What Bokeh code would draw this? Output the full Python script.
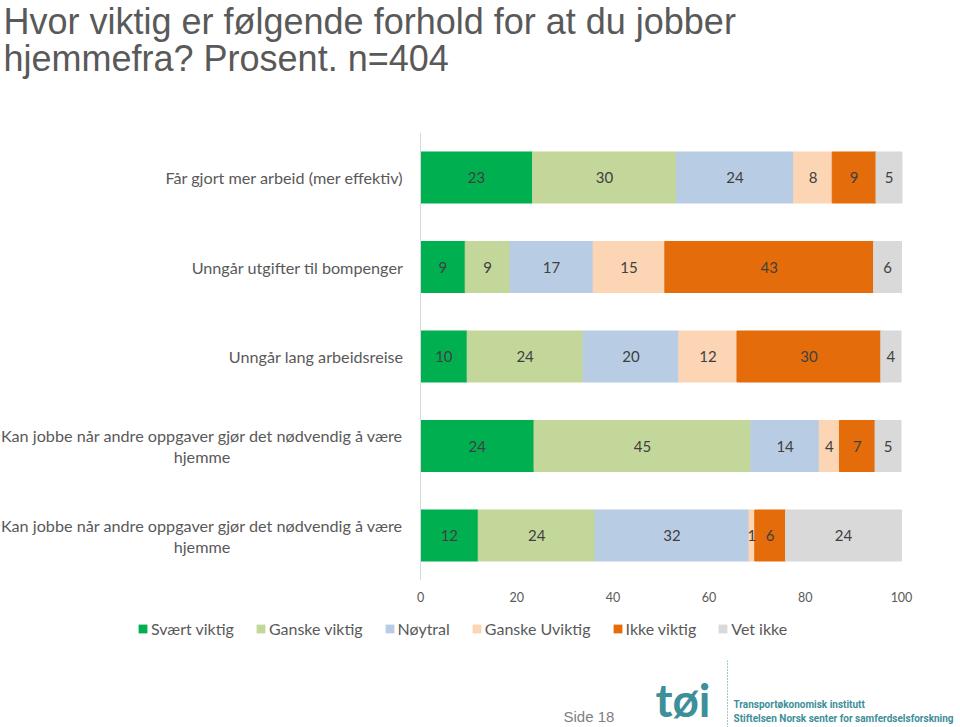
from bokeh.plotting import figure
from bokeh.layouts import column
from bokeh.models import (ColumnDataSource, Range1d, FixedTicker, Label, Span)
from bokeh.core.properties import value
from bokeh.embed import file_html
from bokeh.resources import INLINE

# ---------------- data ----------------
title_lines = ["Hvor viktig er følgende forhold for at du jobber",
               "hjemmefra? Prosent. n=404"]

categories = [
    "Får gjort mer arbeid (mer effektiv)",
    "Unngår utgifter til bompenger",
    "Unngår lang arbeidsreise",
    "Kan jobbe når andre oppgaver gjør det nødvendig å være\nhjemme",
    "Kan jobbe når andre oppgaver gjør det nødvendig å være\nhjemme",
]

series_names = ["Svært viktig", "Ganske viktig", "Nøytral",
                "Ganske Uviktig", "Ikke viktig", "Vet ikke"]

svaert_viktig = [23.3, 9.3, 9.7, 23.6, 12.0]
ganske_viktig = [29.9, 9.3, 24.1, 45.1, 24.3]
noytral = [24.4, 17.3, 19.9, 14.2, 32.0]
ganske_uviktig = [8.0, 14.9, 12.1, 4.2, 1.2]
ikke_viktig = [9.1, 43.4, 29.9, 7.4, 6.4]
vet_ikke = [5.4, 5.8, 4.2, 5.4, 24.1]

x_ticks = [0, 20, 40, 60, 80, 100]

colors = ["#00b050", "#c4d79b", "#b8cce4", "#fcd5b5", "#e46c0a", "#d9d9d9"]

footer_page = "Side 18"
logo_mark = "tøi"
logo_lines = ["Transportøkonomisk institutt",
              "Stiftelsen Norsk senter for samferdselsforskning"]

# ---------------- layout constants (pixels) ----------------
W = 960
H_MAIN = 612
H_LEG = 48
H_FOOT = 67
FRAME_H = 585          # main frame spans the full width and the top 585 px
X0_PX = 420            # where value 0 sits
PX_PER_UNIT = 4.81     # 100 units = 481 px
TOP_ROW_PX = 177       # centre of first bar
ROW_PX = 89.5          # row spacing

TEXT_GREY = "#595959"
FONT = "Lato"

# ---------------- main chart ----------------
series = [svaert_viktig, ganske_viktig, noytral, ganske_uviktig, ikke_viktig, vet_ikke]
keys = [f"s{i}" for i in range(len(series))]
row_pos = list(range(len(categories)))

data = {"pos": row_pos}
for k, s in zip(keys, series):
    data[k] = s
src = ColumnDataSource(data)

x_start = -X0_PX / PX_PER_UNIT
x_end = x_start + W / PX_PER_UNIT
y_top = -TOP_ROW_PX / ROW_PX
y_bottom = y_top + FRAME_H / ROW_PX

p = figure(width=W, height=H_MAIN, output_backend="svg", toolbar_location=None,
           x_range=Range1d(x_start, x_end), y_range=Range1d(y_bottom, y_top),
           x_axis_location="below", y_axis_location=None,
           min_border_left=0, min_border_right=0, min_border_top=0,
           min_border_bottom=H_MAIN - FRAME_H)
p.outline_line_color = None
p.xgrid.visible = False
p.ygrid.visible = False
p.background_fill_color = "white"

p.hbar_stack(keys, y="pos", height=0.57, color=colors, source=src)

# vertical category-axis line
n = len(categories)
p.segment(x0=[0], y0=[-0.5], x1=[0], y1=[n - 0.5], line_color="#d9d9d9", line_width=1)

# value labels in the middle of each segment
lx, ly, lt = [], [], []
for r in row_pos:
    cum = 0.0
    for s in series:
        v = s[r]
        lx.append(cum + v / 2)
        ly.append(r)
        lt.append(str(int(round(v))))
        cum += v
p.text(x="x", y="y", text="t", source=ColumnDataSource(dict(x=lx, y=ly, t=lt)),
       text_align="center", text_baseline="middle",
       text_font=value(FONT), text_font_size="15px", text_color="#404040")

# category labels
single_y, single_t, multi_y, multi_t1, multi_t2 = [], [], [], [], []
for r, c in zip(row_pos, categories):
    parts = c.split("\n")
    if len(parts) == 1:
        single_y.append(r); single_t.append(c)
    else:
        multi_y.append(r); multi_t1.append(parts[0]); multi_t2.append(parts[1])

lab_kw = dict(text_font=value(FONT), text_font_size="16.2px", text_color=TEXT_GREY,
              text_baseline="middle")
p.text(x="x", y="y", text="t", x_offset=-17, text_align="right",
       source=ColumnDataSource(dict(x=[0] * len(single_y), y=single_y, t=single_t)), **lab_kw)
p.text(x="x", y="y", text="t", x_offset=-17, y_offset=-10.5, text_align="right",
       source=ColumnDataSource(dict(x=[0] * len(multi_y), y=multi_y, t=multi_t1)), **lab_kw)
p.text(x="x", y="y", text="t", x_offset=-218.5, y_offset=10.5, text_align="center",
       source=ColumnDataSource(dict(x=[0] * len(multi_y), y=multi_y, t=multi_t2)), **lab_kw)

# x axis
p.xaxis.ticker = FixedTicker(ticks=x_ticks)
p.xaxis.axis_line_color = None
p.xaxis.major_tick_line_color = None
p.xaxis.minor_tick_line_color = None
p.xaxis.major_tick_out = 0
p.xaxis.major_tick_in = 0
p.xaxis.major_label_standoff = 6
p.xaxis.major_label_text_font = FONT
p.xaxis.major_label_text_font_size = "12.5px"
p.xaxis.major_label_text_color = TEXT_GREY

# title (screen units, relative to the frame's bottom-left)
for line, base in zip(title_lines, [21, 58]):
    p.add_layout(Label(x=3, y=FRAME_H - base, x_units="screen", y_units="screen", text=line,
                       text_font="Liberation Sans", text_font_size="36px",
                       text_color=TEXT_GREY, text_baseline="alphabetic"))

# ---------------- legend strip ----------------
lg = figure(width=W, height=H_LEG, output_backend="svg", toolbar_location=None,
            x_range=Range1d(0, 1), y_range=Range1d(0, 1),
            x_axis_location=None, y_axis_location=None,
            min_border_left=0, min_border_right=0, min_border_top=0, min_border_bottom=0)
lg.outline_line_color = None
lg.xgrid.visible = False
lg.ygrid.visible = False
for name, c in zip(series_names, colors):
    # zero-size swatch renderer, used only to carry the legend entry
    lg.hbar(y=[0], left=[0], right=[0], height=0, fill_color=c, line_color=None,
            legend_label=name)
leg = lg.legend[0]
leg.orientation = "horizontal"
leg.location = (137, 22)
leg.padding = 0
leg.margin = 0
leg.spacing = 21
leg.glyph_width = 11
leg.glyph_height = 11
leg.label_standoff = 3
leg.label_height = 20
leg.border_line_color = None
leg.background_fill_alpha = 0
leg.label_text_font = FONT
leg.label_text_font_size = "16px"
leg.label_text_color = TEXT_GREY

# ---------------- footer ----------------
TEAL = "#3d8f99"
f = figure(width=W, height=H_FOOT, output_backend="svg", toolbar_location=None,
           x_range=Range1d(0, W), y_range=Range1d(0, H_FOOT),
           x_axis_location=None, y_axis_location=None,
           min_border_left=0, min_border_right=0, min_border_top=0, min_border_bottom=0)
f.outline_line_color = None
f.xgrid.visible = False
f.ygrid.visible = False
f.add_layout(Label(x=563, y=11, x_units="screen", y_units="screen", text=footer_page,
                   text_font="Liberation Sans", text_font_size="15px",
                   text_color="#7f7f7f", text_baseline="middle"))
f.add_layout(Label(x=655, y=28, x_units="screen", y_units="screen", text=logo_mark,
                   text_font="Lato", text_font_size="46px", text_font_style="bold",
                   text_color=TEAL, text_baseline="middle"))
f.add_layout(Span(location=727, dimension="height", line_color=TEAL, line_dash="1 2",
                  line_width=1))
for line, yy in zip(logo_lines, [23, 9]):
    f.add_layout(Label(x=733, y=yy, x_units="screen", y_units="screen", text=line,
                       text_font="Roboto", text_font_size="10px", text_font_style="bold",
                       text_color=TEAL, text_baseline="middle"))

layout = column(p, lg, f, spacing=0)
open("out.html", "w").write(file_html(layout, INLINE))
